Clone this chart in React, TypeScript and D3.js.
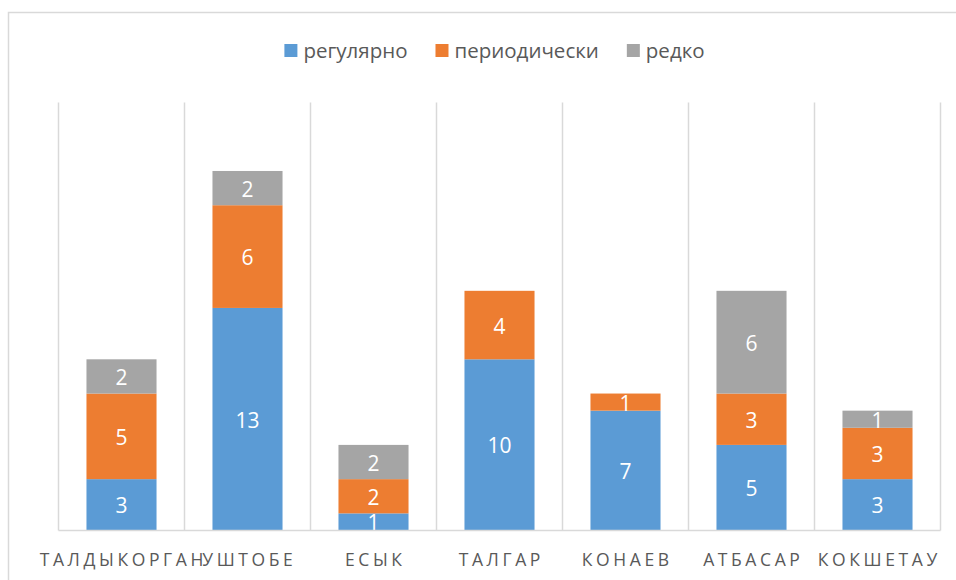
import React, { useEffect, useRef } from "react";
import * as d3 from "d3";

const categories = ["ТАЛДЫКОРГАН", "УШТОБЕ", "ЕСЫК", "ТАЛГАР", "КОНАЕВ", "АТБАСАР", "КОКШЕТАУ"];
const seriesNames = ["регулярно", "периодически", "редко"];
const regular = [3, 13, 1, 10, 7, 5, 3];
const periodic = [5, 6, 2, 4, 1, 3, 3];
const rare = [2, 2, 2, 0, 0, 6, 1];
const colors = ["#5B9BD5", "#ED7D31", "#A5A5A5"];

const W = 956;
const H = 580;
const FONT = "'Open Sans', 'Noto Sans', sans-serif";

export default function App() {
  const ref = useRef<SVGSVGElement>(null);

  useEffect(() => {
    const svg = d3.select(ref.current);
    svg.selectAll("*").remove();

    // chart frame
    svg.append("rect")
      .attr("x", 8.5).attr("y", 12.5)
      .attr("width", W + 20).attr("height", H + 20)
      .attr("fill", "#fff").attr("stroke", "#D9D9D9").attr("stroke-width", 1.5);

    const x = d3.scaleBand<string>().domain(categories).range([58.5, 940.5])
      .paddingInner(0.444).paddingOuter(0.222);
    const y = d3.scaleLinear().domain([0, 25]).range([530.5, 102.5]);

    // vertical gridlines at category boundaries
    const step = x.step();
    const bounds = d3.range(categories.length + 1).map(i => 58.5 + i * step);
    svg.append("g").selectAll("line").data(bounds).join("line")
      .attr("x1", d => d).attr("x2", d => d)
      .attr("y1", y(25)).attr("y2", y(0))
      .attr("stroke", "#D9D9D9").attr("stroke-width", 1.5);

    // stacked data
    const rows = categories.map((c, i) => ({ cat: c, s0: regular[i], s1: periodic[i], s2: rare[i] }));
    const stack = d3.stack<any>().keys(["s0", "s1", "s2"]);
    const layers = stack(rows);

    layers.forEach((layer, li) => {
      const g = svg.append("g");
      g.selectAll("rect").data(layer).join("rect")
        .attr("x", d => x(d.data.cat)!)
        .attr("width", x.bandwidth())
        .attr("y", d => y(d[1]))
        .attr("height", d => y(d[0]) - y(d[1]))
        .attr("fill", colors[li]);
      g.selectAll("text").data(layer.filter(d => d[1] - d[0] > 0)).join("text")
        .attr("x", d => x(d.data.cat)! + x.bandwidth() / 2)
        .attr("y", d => (y(d[0]) + y(d[1])) / 2 + 8.5)
        .attr("text-anchor", "middle")
        .attr("font-family", FONT)
        .attr("font-size", 21)
        .attr("fill", "#FFFFFF")
        .text(d => String(d[1] - d[0]));
    });

    // baseline axis
    svg.append("line")
      .attr("x1", 58.5).attr("x2", 940.5)
      .attr("y1", y(0)).attr("y2", y(0))
      .attr("stroke", "#D9D9D9").attr("stroke-width", 1.5);

    // category labels
    const ls = 3.6;
    svg.append("g").selectAll("text").data(categories).join("text")
      .attr("x", d => x(d)! + x.bandwidth() / 2 + ls / 2)
      .attr("y", 565.5)
      .attr("text-anchor", "middle")
      .attr("font-family", FONT)
      .attr("font-size", 17.5)
      .attr("letter-spacing", ls)
      .attr("fill", "#595959")
      .text(d => d);

    // legend
    const lg = svg.append("g");
    const items = seriesNames.map((name, i) => {
      const t = lg.append("text")
        .attr("font-family", FONT).attr("font-size", 20.5)
        .attr("fill", "#595959").attr("y", 57.5).text(name);
      const w = (t.node() as SVGTextElement).getComputedTextLength();
      return { t, w, i };
    });
    const sq = 13, gapSq = 6, gapItem = 28;
    const total = d3.sum(items, d => sq + gapSq + d.w) + gapItem * (items.length - 1);
    let cx = 494.5 - total / 2;
    items.forEach(it => {
      lg.append("rect").attr("x", cx).attr("y", 44).attr("width", sq).attr("height", sq)
        .attr("fill", colors[it.i]);
      it.t.attr("x", cx + sq + gapSq);
      cx += sq + gapSq + it.w + gapItem;
    });
  }, []);

  return (
    <svg ref={ref} width={W} height={H}
      style={{ position: "absolute", left: 0, top: 0, background: "#fff" }} />
  );
}
